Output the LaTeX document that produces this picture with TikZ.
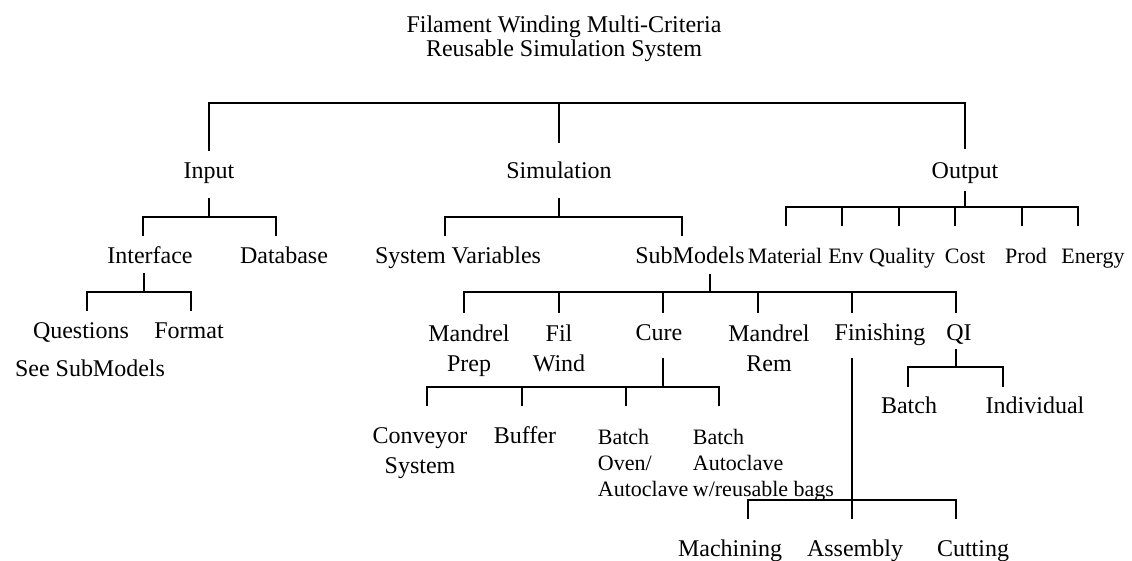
\documentclass[tikz,border=0pt]{standalone}
\usepackage{fontspec}
\setmainfont{Liberation Serif}
\tikzset{
  lbl/.style={inner sep=0pt,anchor=north,font=\fontsize{24}{29.5}\selectfont},
  one/.style={lbl,text height=16pt,text depth=0pt},
  many/.style={lbl,align=center},
  small/.style={inner sep=0pt,anchor=north,font=\fontsize{22}{26}\selectfont,text height=15pt,text depth=0pt},
  smallmany/.style={inner sep=0pt,anchor=north west,align=left,font=\fontsize{22}{26}\selectfont},
  branch/.style={line width=1.8pt,line cap=rect}
}

\begin{document}
\begin{tikzpicture}[x=1pt,y=-1pt,branch]
  \useasboundingbox (0,0) rectangle (1132,561);
  \node[many,font=\fontsize{24}{24}\selectfont] (title) at (564,15) {Filament Winding Multi-Criteria\\Reusable Simulation System};
  % first level
  \node[one] (in)  at (209,162) {Input};
  \node[one] (sim) at (559,162) {Simulation};
  \node[one] (out) at (965,162) {Output};
  % second level
  \node[one] (if) at (150,247) {Interface};
  \node[one] (db) at (284,247) {Database};
  \node[one] (sv) at (458,247) {System Variables};
  \node[one] (sm) at (690,247) {SubModels};
  \node[small] (mat)  at (785,248)  {Material};
  \node[small] (env)  at (846,248)  {Env};
  \node[small] (qual) at (902,248)  {Quality};
  \node[small] (cost) at (965,248)  {Cost};
  \node[small] (prod) at (1026,248) {Prod};
  \node[small] (nrg)  at (1093,248) {Energy};
  % third level
  \node[one] (qst) at (81,322)  {Questions};
  \node[one] (fmt) at (189,322) {Format};
  \node[one] (see) at (90,360)  {See SubModels};
  \node[many] (mp)  at (469,324) {Mandrel\\Prep};
  \node[many] (fw)  at (559,324) {Fil\\Wind};
  \node[one]  (cure) at (659,324) {Cure};
  \node[many] (mr)  at (769,324) {Mandrel\\Rem};
  \node[one]  (fin) at (880,324) {Finishing};
  \node[one]  (qi)  at (959,324) {QI};
  % cure, QI and finishing
  \node[many] (conv) at (420,427) {Conveyor\\System};
  \node[one]  (buf)  at (525,427) {Buffer};
  \node[smallmany] (bov) at (597,428) {Batch\\Oven/\\Autoclave};
  \node[smallmany] (bac) at (692,428) {Batch\\Autoclave\\w/reusable bags};
  \node[one] (bqi) at (909,397)  {Batch};
  \node[one] (ind) at (1035,397) {Individual};
  \node[one] (mach) at (730,540) {Machining};
  \node[one] (asm)  at (855,540) {Assembly};
  \node[one] (cut)  at (973,540) {Cutting};

  \coordinate (jtop) at (559,103);
  \coordinate (jin)  at (209,217);
  \coordinate (jsim) at (559,217);
  \coordinate (jout) at (965,207);
  \coordinate (jif)  at (144,292);
  \coordinate (jsm)  at (710,292);
  \coordinate (jcu)  at (663,387);
  \coordinate (jqi)  at (956,367);
  \coordinate (jfin) at (852,500);

  % top
  \draw (in.north |- jtop) -- (out.north |- jtop);
  \foreach \c/\g in {in/12,sim/20,out/14}
    \draw (\c.north |- jtop) -- ([yshift=\g pt]\c.north);
  % input
  \draw (jin) -- ([yshift=-19pt]in.south);
  \draw ([xshift=-7pt]if.north |- jin) -- ([xshift=-8pt]db.north |- jin);
  \foreach \c/\dx in {if/-7,db/-8}
    \draw ([xshift=\dx pt]\c.north |- jin) -- ([xshift=\dx pt,yshift=12pt]\c.north);
  % simulation
  \draw (jsim) -- ([yshift=-19pt]sim.south);
  \draw ([xshift=-13pt]sv.north |- jsim) -- ([xshift=-8pt]sm.north |- jsim);
  \foreach \c/\dx in {sv/-13,sm/-8}
    \draw ([xshift=\dx pt]\c.north |- jsim) -- ([xshift=\dx pt,yshift=12pt]\c.north);
  % output
  \draw (jout) -- ([yshift=-12pt]out.south);
  \draw ([xshift=1pt]mat.north |- jout) -- ([xshift=-15pt]nrg.north |- jout);
  \foreach \c/\dx in {mat/1,env/-4,qual/-3,cost/-10,prod/-4,nrg/-15}
    \draw ([xshift=\dx pt]\c.north |- jout) -- ([xshift=\dx pt,yshift=23pt]\c.north);
  % interface
  \draw (jif) -- ([yshift=-9pt]if.south -| jif);
  \draw ([xshift=6pt]qst.north |- jif) -- ([xshift=2pt]fmt.north |- jif);
  \foreach \c/\dx in {qst/6,fmt/2}
    \draw ([xshift=\dx pt]\c.north |- jif) -- ([xshift=\dx pt,yshift=12pt]\c.north);
  % submodels
  \draw (jsm) -- ([yshift=-10pt]sm.south -| jsm);
  \draw ([xshift=-5pt]mp.north |- jsm) -- ([xshift=-3pt]qi.north |- jsm);
  \foreach \c/\dx in {mp/-5,fw/0,cure/4,mr/-11,fin/-28,qi/-3}
    \draw ([xshift=\dx pt]\c.north |- jsm) -- ([xshift=\dx pt,yshift=12pt]\c.north);
  % cure
  \draw (jcu) -- ([yshift=-17pt]cure.south -| jcu);
  \draw ([xshift=7pt]conv.north |- jcu) -- ([xshift=27pt]bac.north west |- jcu);
  \foreach \c/\dx/\g in {conv.north/7/22,buf.north/-3/22,bov.north west/29/23,bac.north west/27/23}
    \draw ([xshift=\dx pt]\c |- jcu) -- ([xshift=\dx pt,yshift=\g pt]\c);
  % QI
  \draw (jqi) -- ([yshift=-8pt]qi.south -| jqi);
  \draw ([xshift=-1pt]bqi.north |- jqi) -- ([xshift=-32pt]ind.north |- jqi);
  \foreach \c/\dx in {bqi/-1,ind/-32}
    \draw ([xshift=\dx pt]\c.north |- jqi) -- ([xshift=\dx pt,yshift=11pt]\c.north);
  % finishing
  \draw (jfin) -- ([yshift=-17pt]fin.south -| jfin);
  \draw ([xshift=18pt]mach.north |- jfin) -- ([xshift=-17pt]cut.north |- jfin);
  \foreach \c/\dx in {mach/18,asm/-3,cut/-17}
    \draw ([xshift=\dx pt]\c.north |- jfin) -- ([xshift=\dx pt,yshift=22pt]\c.north);
\end{tikzpicture}
\end{document}
